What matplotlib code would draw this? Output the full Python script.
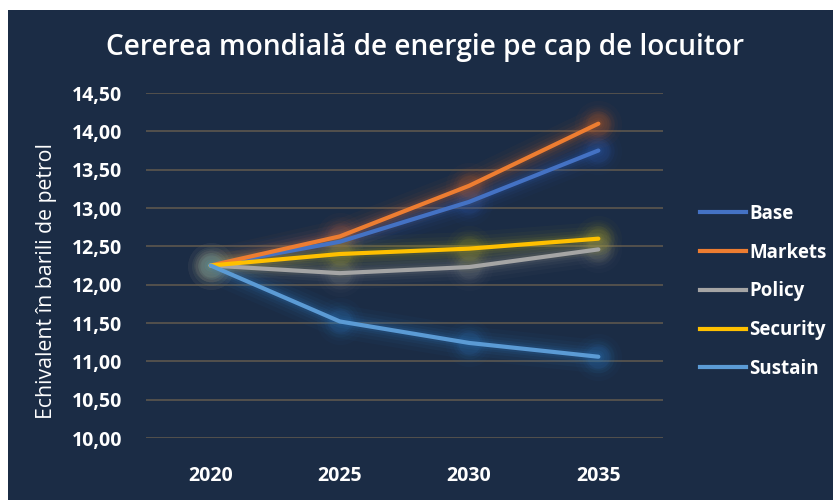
import matplotlib
matplotlib.use("Agg")
import matplotlib.pyplot as plt
from matplotlib.patches import Rectangle
from matplotlib.ticker import FuncFormatter, MultipleLocator
from matplotlib.lines import Line2D

years = ["2020", "2025", "2030", "2035"]
series_names = ["Base", "Markets", "Policy", "Security", "Sustain"]
base = [12.25, 12.56, 13.08, 13.75]
markets = [12.25, 12.63, 13.29, 14.10]
policy = [12.25, 12.15, 12.23, 12.46]
security = [12.25, 12.40, 12.47, 12.60]
sustain = [12.25, 11.52, 11.24, 11.06]
values = [base, markets, policy, security, sustain]
colors = ["#4472C4", "#ED7D31", "#A5A5A5", "#FFC000", "#5B9BD5"]
glow_colors = ["#2f5fb8", "#c9622a", "#8a8a8a", "#a8a020", "#2f7fc8"]

BG = "#1b2c45"
FONT = ["Open Sans", "DejaVu Sans"]
plt.rcParams["font.family"] = FONT

fig = plt.figure(figsize=(8.33, 5.0), dpi=100)
fig.patch.set_facecolor("white")
fig.patches.append(Rectangle((8 / 833, 0), 1, 1 - 10 / 500, transform=fig.transFigure,
                             facecolor=BG, edgecolor="none", zorder=-5))

ax = fig.add_axes([146 / 833, 1 - 438 / 500, (663 - 146) / 833, (438 - 93) / 500])
ax.set_zorder(1)
ax.patch.set_alpha(0)
for s in ax.spines.values():
    s.set_visible(False)

x = list(range(len(years)))
ax.set_xlim(-0.5, len(years) - 0.5)
ax.set_ylim(10, 14.5)
ax.yaxis.set_major_locator(MultipleLocator(0.5))
ax.yaxis.set_major_formatter(FuncFormatter(lambda v, p: f"{v:.2f}".replace(".", ",")))
ax.grid(axis="y", color="#57534d", linewidth=1.3, zorder=1)
ax.set_axisbelow(True)
ax.tick_params(axis="both", length=0, colors="white", labelsize=14)
ax.tick_params(axis="y", pad=17)
ax.tick_params(axis="x", pad=20)
ax.set_xticks(x)
ax.set_xticklabels(years)
for lbl in ax.get_xticklabels() + ax.get_yticklabels():
    lbl.set_fontweight("bold")
    lbl.set_color("white")

# glow
for vals, gc in zip(values, glow_colors):
    for lw, a in [(24, 0.04), (18, 0.05), (13, 0.07), (9, 0.09), (6, 0.12)]:
        ax.plot(x, vals, color=gc, linewidth=lw, alpha=a, solid_capstyle="round",
                solid_joinstyle="round", zorder=2)
        ax.plot(x, vals, linestyle="none", marker="o", markersize=lw + 10,
                color=gc, alpha=a * 0.8, markeredgewidth=0, zorder=2)

for vals, c in zip(values, colors):
    ax.plot(x, vals, color=c, linewidth=3, solid_capstyle="round",
            solid_joinstyle="round", zorder=3)

handles = [Line2D([0], [0], color=c, linewidth=3) for c in colors]
leg = fig.legend(handles, series_names, loc="upper left",
                 bbox_to_anchor=(683 / 833, 1 - 187 / 500), frameon=False,
                 labelcolor="white", handlelength=2.45, handletextpad=0.2,
                 labelspacing=1.0, prop={"size": 13.5, "weight": "bold", "family": FONT})

fig.text(425 / 833, 1 - 47 / 500, "Cererea mondială de energie pe cap de locuitor",
         color="white", fontsize=20.2, ha="center", va="center", fontweight="semibold")
fig.text(47 / 833, 1 - 281 / 500, "Echivalent în barili de petrol", color="white",
         fontsize=15.3, rotation=90, ha="center", va="center", fontweight="medium")

fig.savefig("out.png", dpi=100, facecolor=fig.get_facecolor())
